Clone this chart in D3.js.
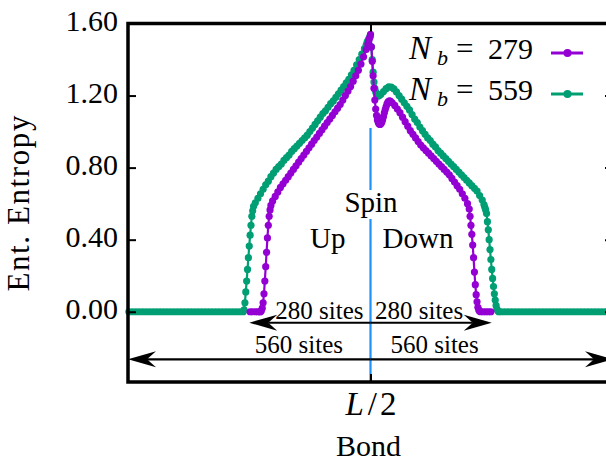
<!DOCTYPE html>
<html>
<head>
<meta charset="utf-8">
<script src="https://cdn.jsdelivr.net/npm/d3@7"></script>
<style>
  html, body { margin: 0; padding: 0; background: #fff; }
  svg { display: block; }
  text { font-family: 'Liberation Serif', 'Times New Roman', serif; fill: #000; }
</style>
</head>
<body>
<svg id="chart" width="606" height="462"></svg>
<script>
// Entanglement entropy across the chain for two bath sizes.
// Sites are measured from the chain centre L/2; samples are denser where the curves are steep.

const yTicks = [0, 0.4, 0.8, 1.2, 1.6];
const yTickLabels = ["0.00", "0.40", "0.80", "1.20", "1.60"];
const xTicks = [0];
const seriesNames = ["279", "559"];   // N_b values

// ---- N_b = 279 ----
const n279FlatLeft   = [0, 0, 0, 0];                                   // -278 .. -260, every 6
const n279EdgeLeft   = [0, 0, 0.005, 0.02, 0.05, 0.10, 0.17, 0.25, 0.33, 0.41, 0.48, 0.53, 0.565, 0.59]; // -256 .. -230, every 2
const n279SlopeLeft  = [0.615, 0.64, 0.665, 0.69, 0.71, 0.73, 0.75, 0.77, 0.79, 0.81,
                        0.83, 0.85, 0.87, 0.89, 0.91, 0.93, 0.95, 0.97, 0.99, 1.01,
                        1.03, 1.05, 1.07, 1.09, 1.11, 1.13, 1.15, 1.175, 1.20, 1.225,
                        1.25, 1.28, 1.31, 1.34, 1.375, 1.415, 1.455];    // -226 .. -10, every 6
const n279Peak       = [1.485, 1.505, 1.52, 1.54, 1.47, 1.39, 1.31, 1.24, 1.175, 1.125,
                        1.09, 1.065, 1.05, 1.042, 1.04, 1.043, 1.052, 1.066, 1.084, 1.104,
                        1.122, 1.138, 1.152, 1.162, 1.168, 1.17, 1.168]; // -6 .. 46, every 2
const n279SlopeRight = [1.16, 1.145, 1.125, 1.105, 1.08, 1.055, 1.03, 1.005, 0.985, 0.965,
                        0.945, 0.925, 0.91, 0.895, 0.88, 0.865, 0.85, 0.835, 0.82, 0.805,
                        0.79, 0.775, 0.76, 0.74, 0.72, 0.70, 0.68, 0.655, 0.63, 0.60]; // 50 .. 224, every 6
const n279EdgeRight  = [0.57, 0.53, 0.48, 0.43, 0.37, 0.30, 0.22, 0.15, 0.095, 0.055, 0.025, 0.01, 0.003, 0]; // 228 .. 254, every 2
const n279FlatRight  = [0, 0, 0, 0];                                   // 260 .. 278, every 6

// ---- N_b = 559 ----
const n559FlatLeft   = [0, 0, 0, 0, 0, 0, 0, 0, 0, 0, 0, 0, 0, 0, 0, 0, 0,
                        0, 0, 0, 0, 0, 0, 0, 0, 0, 0, 0, 0, 0, 0, 0, 0];  // -558 .. -302, every 8
const n559EdgeLeft   = [0, 0.01, 0.05, 0.11, 0.17, 0.235, 0.30, 0.365, 0.425, 0.48, 0.53, 0.56, 0.585]; // -294 .. -270, every 2
const n559SlopeLeft  = [0.605, 0.63, 0.655, 0.68, 0.705, 0.725, 0.75, 0.77, 0.79, 0.805,
                        0.82, 0.84, 0.855, 0.87, 0.89, 0.905, 0.92, 0.935, 0.95, 0.965,
                        0.98, 1.0, 1.02, 1.04, 1.06, 1.08, 1.10, 1.115, 1.135, 1.155,
                        1.17, 1.19, 1.21, 1.23, 1.25, 1.27, 1.29, 1.315, 1.34, 1.37,
                        1.40, 1.43, 1.46];                                // -266 .. -14, every 6
const n559Peak       = [1.48, 1.495, 1.505, 1.515, 1.525, 1.53, 1.47, 1.40, 1.33, 1.275,
                        1.24, 1.22, 1.207, 1.20, 1.198, 1.20];            // -10 .. 20, every 2
const n559SlopeRight = [1.207, 1.222, 1.238, 1.248, 1.247, 1.237, 1.22, 1.20, 1.18, 1.16,
                        1.14, 1.12, 1.095, 1.07, 1.05, 1.025, 1.005, 0.985, 0.965, 0.95,
                        0.93, 0.915, 0.895, 0.88, 0.865, 0.85, 0.835, 0.82, 0.805, 0.79,
                        0.775, 0.76, 0.745, 0.73, 0.715, 0.70, 0.685, 0.67, 0.645, 0.62]; // 24 .. 258, every 6
const n559EdgeRight  = [0.595, 0.58, 0.565, 0.545, 0.50, 0.455, 0.40, 0.345, 0.29, 0.235,
                        0.185, 0.14, 0.10, 0.065, 0.035, 0.015, 0.005, 0]; // 262 .. 296, every 2
const n559FlatRight  = [0, 0, 0, 0, 0, 0, 0, 0, 0, 0, 0, 0, 0, 0, 0, 0, 0,
                        0, 0, 0, 0, 0, 0, 0, 0, 0, 0, 0, 0, 0, 0, 0, 0];  // 302 .. 558, every 8

// Half-chain spans marked by the arrows (sites)
const innerSpan = 280;
const outerSpan = 560;

// ---------------------------------------------------------------
function run(start, step, values) {
  return values.map((v, i) => ({ site: start + i * step, s: v }));
}

const n279 = [].concat(
  run(-278, 6, n279FlatLeft), run(-256, 2, n279EdgeLeft), run(-226, 6, n279SlopeLeft),
  run(-6, 2, n279Peak), run(50, 6, n279SlopeRight), run(228, 2, n279EdgeRight),
  run(260, 6, n279FlatRight));

const n559 = [].concat(
  run(-558, 8, n559FlatLeft), run(-294, 2, n559EdgeLeft), run(-266, 6, n559SlopeLeft),
  run(-10, 2, n559Peak), run(24, 6, n559SlopeRight), run(262, 2, n559EdgeRight),
  run(302, 8, n559FlatRight));

const svg = d3.select("#chart");
const x = d3.scaleLinear().domain([-560, 560]).range([128, 613]);
const y = d3.scaleLinear().domain([-0.39, 1.6]).range([382, 23.5]);

const colors = { "279": "#9400d3", "559": "#009e73" };
const midColor = "#1e90ff";
const dotR = 3.6;

// centre bond marker
svg.append("line")
  .attr("x1", x(0)).attr("x2", x(0))
  .attr("y1", y(-0.39)).attr("y2", y(1.02))
  .attr("stroke", midColor).attr("stroke-width", 2.2);

// curves: thin connecting line plus a dot at every sample
const line = d3.line().x(d => x(d.site)).y(d => y(d.s));
function drawSeries(data, color) {
  const g = svg.append("g");
  g.append("path").datum(data)
    .attr("d", line).attr("fill", "none")
    .attr("stroke", color).attr("stroke-width", 2.2).attr("stroke-linejoin", "round");
  g.selectAll("circle").data(data).join("circle")
    .attr("cx", d => x(d.site)).attr("cy", d => y(d.s))
    .attr("r", dotR).attr("fill", color);
}
drawSeries(n559, colors["559"]);
drawSeries(n279, colors["279"]);

// axes: ticks point inward on all four sides
function styleAxis(g) {
  g.select(".domain").remove();
  g.selectAll(".tick line").attr("stroke", "#000").attr("stroke-width", 2);
}
svg.append("g").attr("transform", `translate(${x.range()[0]},0)`)
  .call(d3.axisLeft(y).tickValues(yTicks).tickSize(-8).tickPadding(10)
        .tickFormat((d, i) => yTickLabels[i]))
  .call(styleAxis)
  .call(g => g.selectAll(".tick text").attr("font-size", 30)
        .attr("font-family", "'Liberation Serif', serif").attr("dy", "0.22em"));

svg.append("g").attr("transform", `translate(${x.range()[1]},0)`)
  .call(d3.axisRight(y).tickValues(yTicks).tickSize(-8).tickFormat(""))
  .call(styleAxis);

svg.append("g").attr("transform", `translate(0,${y.range()[1]})`)
  .call(d3.axisTop(x).tickValues(xTicks).tickSize(-8).tickFormat(""))
  .call(styleAxis);

svg.append("g").attr("transform", `translate(0,${y.range()[0]})`)
  .call(d3.axisBottom(x).tickValues(xTicks).tickSize(-8).tickPadding(12).tickFormat(""))
  .call(styleAxis)
  .call(g => {
    const t = g.select(".tick text").attr("font-size", 33)
      .attr("font-family", "'Liberation Serif', serif").attr("dy", "0.64em");
    t.append("tspan").attr("font-style", "italic").text("L");
    t.append("tspan").attr("dx", 4).text("/");
    t.append("tspan").attr("dx", 3).text("2");
  });

// frame
svg.append("rect")
  .attr("x", x.range()[0]).attr("y", y.range()[1])
  .attr("width", x.range()[1] - x.range()[0]).attr("height", y.range()[0] - y.range()[1])
  .attr("fill", "none").attr("stroke", "#000").attr("stroke-width", 3.5);

// axis titles
svg.append("text")
  .attr("transform", `translate(29,${(y.range()[0] + y.range()[1]) / 2}) rotate(-90)`)
  .attr("text-anchor", "middle").attr("font-size", 31).attr("letter-spacing", 1.6)
  .text("Ent. Entropy");
svg.append("text")
  .attr("x", x(0) - 2).attr("y", 456)
  .attr("text-anchor", "middle").attr("font-size", 30)
  .text("Bond");

// spin labels
const cx0 = x(0);
svg.append("rect").attr("x", cx0 - 27).attr("y", 190).attr("width", 56).attr("height", 29).attr("fill", "#fff");
svg.append("text").attr("x", cx0 + 0.5).attr("y", 212).attr("text-anchor", "middle").attr("font-size", 29).text("Spin");
svg.append("text").attr("x", cx0 - 25).attr("y", 248).attr("text-anchor", "end").attr("font-size", 29).text("Up");
svg.append("text").attr("x", cx0 + 12).attr("y", 248).attr("text-anchor", "start").attr("font-size", 29).text("Down");

// span arrows
function arrowHead(tipX, tipY, dir) {
  const L = 28, h = 8, n = 19;
  return `M${tipX},${tipY} L${tipX - dir * L},${tipY - h} L${tipX - dir * n},${tipY} L${tipX - dir * L},${tipY + h} Z`;
}
function spanArrow(span, level) {
  const yy = y(level);
  [-1, 1].forEach(dir => {
    const tip = x(dir * span);
    svg.append("line").attr("x1", cx0).attr("x2", tip - dir * 19)
      .attr("y1", yy).attr("y2", yy).attr("stroke", "#000").attr("stroke-width", 2.2);
    svg.append("path").attr("d", arrowHead(tip, yy, dir)).attr("fill", "#000");
  });
}
spanArrow(innerSpan, -0.061);
spanArrow(outerSpan, -0.264);

const sitesFont = 25;
svg.append("text").attr("x", cx0 - 7).attr("y", y(-0.04)).attr("text-anchor", "end").attr("font-size", sitesFont).text(`${innerSpan} sites`);
svg.append("text").attr("x", cx0 + 4.5).attr("y", y(-0.04)).attr("text-anchor", "start").attr("font-size", sitesFont).text(`${innerSpan} sites`);
svg.append("text").attr("x", cx0 - 27.5).attr("y", y(-0.229)).attr("text-anchor", "end").attr("font-size", sitesFont).text(`${outerSpan} sites`);
svg.append("text").attr("x", cx0 + 20).attr("y", y(-0.229)).attr("text-anchor", "start").attr("font-size", sitesFont).text(`${outerSpan} sites`);

// legend
seriesNames.forEach((name, i) => {
  const base = 59 + i * 41;
  const g = svg.append("g");
  g.append("text").attr("x", 409).attr("y", base).attr("font-size", 33).attr("font-style", "italic").text("N");
  g.append("text").attr("x", 437).attr("y", base + 6).attr("font-size", 22).attr("font-style", "italic").text("b");
  g.append("text").attr("x", 456).attr("y", base).attr("font-size", 31).text("=");
  g.append("text").attr("x", 488).attr("y", base).attr("font-size", 30).text(name);
  const ly = base - 6;
  g.append("line").attr("x1", 551).attr("x2", 583).attr("y1", ly).attr("y2", ly)
    .attr("stroke", colors[name]).attr("stroke-width", 3);
  g.append("circle").attr("cx", 567.5).attr("cy", ly).attr("r", 4).attr("fill", colors[name]);
});
</script>
</body>
</html>
